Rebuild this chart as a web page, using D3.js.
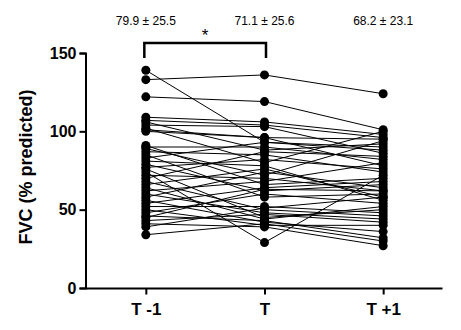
<!DOCTYPE html>
<html>
<head>
<meta charset="utf-8">
<script src="https://cdn.jsdelivr.net/npm/d3@7"></script>
<style>
  html, body { margin: 0; padding: 0; background: #fff; }
  svg { display: block; }
</style>
</head>
<body>
<svg id="chart" width="461" height="330"></svg>
<script>
// ---- data ----
const categories = ["T -1", "T", "T +1"];
const tMinus1 = [139,133,122,109,107,106,104,102,101,91,90,89,87,85,83,81,79,77,76,74,72,70,68,66,64,62,60,58,56,54,52,50,48,46,45,43,41,39,34,100];
const tZero   = [93,136,119,106,104,88,103,80,96,66,90,72,85,58,93,78,62,82,45,29,70,87,50,76,44,68,48,74,42,64,52,40,60,43,63,47,39,51,41,96];
const tPlus1  = [88,124,101,98,96,92,86,100,78,70,82,94,74,60,90,56,66,76,50,72,62,84,46,58,52,80,44,64,36,68,48,40,54,32,62,42,27,58,30,95];
const yTicks = [0, 50, 100, 150];
const meanLabels = ["79.9 \u00b1 25.5", "71.1 \u00b1 25.6", "68.2 \u00b1 23.1"];
const yTitle = "FVC (% predicted)";
const sigMark = "*";

const svg = d3.select("#chart");
const FONT = "'Liberation Sans', Arial, Helvetica, sans-serif";

const x = d3.scalePoint().domain(categories).range([86.5, 442.5]).padding(0.5);
const y = d3.scaleLinear().domain([0, 150]).range([288, 53]);

const subjects = tMinus1.map((v, i) => [v, tZero[i], tPlus1[i]]);

// lines
const line = d3.line().x((d, j) => x(categories[j])).y(d => y(d));
svg.append("g").selectAll("path").data(subjects).join("path")
  .attr("d", d => line(d))
  .attr("fill", "none").attr("stroke", "#000").attr("stroke-width", 1);

// points
const pts = [];
subjects.forEach(s => s.forEach((v, j) => pts.push({c: categories[j], v})));
svg.append("g").selectAll("circle").data(pts).join("circle")
  .attr("cx", d => x(d.c)).attr("cy", d => y(d.v)).attr("r", 4.5).attr("fill", "#000");

// axes
const yAxis = svg.append("g").attr("transform", "translate(85.5,0)")
  .call(d3.axisLeft(y).tickValues(yTicks).tickSize(6).tickPadding(3));
yAxis.select(".domain").attr("stroke-width", 2);
yAxis.selectAll(".tick line").attr("stroke-width", 2);
yAxis.selectAll("text").attr("font-family", FONT).attr("font-size", 16).attr("font-weight", "bold").attr("fill", "#000");

const xAxis = svg.append("g").attr("transform", "translate(0,288.5)")
  .call(d3.axisBottom(x).tickSizeInner(6).tickSizeOuter(0).tickPadding(8));
xAxis.select(".domain").attr("stroke-width", 2).attr("d", "M85.5,0H442.5");
xAxis.selectAll(".tick line").attr("stroke-width", 2);
xAxis.selectAll("text").attr("font-family", FONT).attr("font-size", 17).attr("font-weight", "bold").attr("fill", "#000");

// y title
svg.append("text")
  .attr("transform", "translate(32,167) rotate(-90)")
  .attr("text-anchor", "middle")
  .attr("font-family", FONT).attr("font-size", 18).attr("font-weight", "bold")
  .text(yTitle);

// mean labels
svg.append("g").selectAll("text").data(meanLabels).join("text")
  .attr("x", (d, i) => x(categories[i]))
  .attr("y", 25)
  .attr("text-anchor", "middle")
  .attr("font-family", FONT).attr("font-size", 12)
  .text(d => d);

// significance bracket
const bx1 = x(categories[0]) - 1.5, bx2 = x(categories[1]) + 1.5;
svg.append("path")
  .attr("d", `M${bx1},58V43H${bx2}V58`)
  .attr("fill", "none").attr("stroke", "#000").attr("stroke-width", 2.5);
svg.append("text")
  .attr("x", (bx1 + bx2) / 2).attr("y", 41)
  .attr("text-anchor", "middle")
  .attr("font-family", FONT).attr("font-size", 17)
  .text(sigMark);
</script>
</body>
</html>
